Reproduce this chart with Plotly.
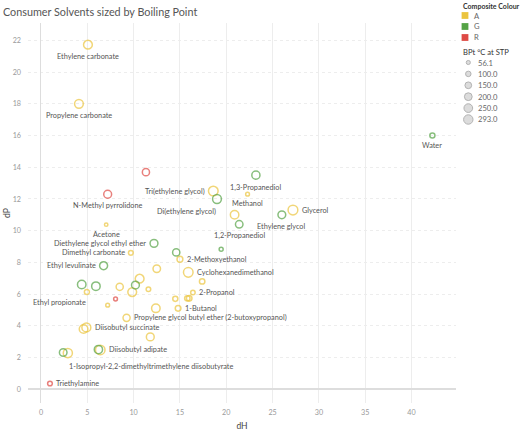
import math
import plotly.graph_objects as go

# ---------------- data ----------------
names = [
    "Ethylene carbonate", "Propylene carbonate", "Water", "", "1,3-Propanediol",
    "N-Methyl pyrrolidone", "Tri(ethylene glycol)", "Methanol", "Di(ethylene glycol)", "",
    "Glycerol", "Ethylene glycol", "1,2-Propanediol", "Acetone", "",
    "Diethylene glycol ethyl ether", "Dimethyl carbonate", "", "2-Methoxyethanol", "Cyclohexanedimethanol",
    "", "2-Propanol", "", "", "",
    "1-Butanol", "", "Propylene glycol butyl ether (2-butoxypropanol)", "", "Diisobutyl succinate",
    "", "", "Diisobutyl adipate", "", "1-Isopropyl-2,2-dimethyltrimethylene diisobutyrate",
    "Triethylamine", "Ethyl levulinate", "", "", "Ethyl propionate",
    "", "", "", "", "",
    "", "", "",
]
dH = [
    5.07, 4.1, 42.25, 11.33, 23.2,
    7.2, 18.6, 22.3, 19.0, 20.9,
    27.2, 26.0, 21.4, 7.04, 19.45,
    12.2, 9.7, 14.6, 15.0, 15.9,
    17.4, 16.4, 14.5, 15.8, 16.0,
    14.8, 12.4, 9.24, 4.6, 4.9,
    11.8, 6.2, 6.4, 2.4, 2.9,
    0.97, 6.76, 4.4, 5.93, 4.96,
    8.05, 7.2, 8.5, 10.2, 10.65,
    9.85, 11.6, 12.5,
]
dP = [
    21.73, 18.0, 16.0, 13.69, 13.5,
    12.3, 12.5, 12.3, 12.0, 11.0,
    11.3, 11.0, 10.4, 10.38, 8.83,
    9.2, 8.6, 8.63, 8.2, 7.37,
    6.8, 6.1, 5.7, 5.73, 5.73,
    5.1, 5.1, 4.5, 3.8, 3.9,
    3.3, 2.5, 2.48, 2.32, 2.28,
    0.36, 7.79, 6.6, 6.5, 6.13,
    5.69, 5.3, 6.46, 6.57, 6.97,
    6.13, 6.3, 7.6,
]
bpt = [
    243, 242, 100, 173, 214,
    202, 285, 64.7, 245, 230,
    290, 197, 188, 56.1, 70,
    202, 90, 175, 124, 283,
    110, 82.6, 100, 110, 115,
    117.7, 230, 170, 237, 250,
    200, 220, 278, 190, 260,
    89, 206, 230, 230, 99,
    65, 65, 173, 200, 243,
    243, 85, 185,
]
colour = [
    "A", "A", "G", "R", "G",
    "R", "A", "A", "G", "A",
    "A", "G", "G", "A", "G",
    "G", "A", "G", "A", "A",
    "A", "A", "A", "A", "A",
    "A", "A", "A", "A", "A",
    "A", "G", "A", "G", "A",
    "R", "G", "G", "G", "A",
    "R", "A", "A", "G", "A",
    "A", "A", "A",
]
label_side = {
    "Ethylene carbonate": "below", "Propylene carbonate": "below", "Water": "below",
    "1,3-Propanediol": "below", "N-Methyl pyrrolidone": "below", "Tri(ethylene glycol)": "left",
    "Methanol": "below", "Di(ethylene glycol)": "belowleft", "Glycerol": "right",
    "Ethylene glycol": "below", "1,2-Propanediol": "below", "Acetone": "below",
    "Diethylene glycol ethyl ether": "left", "Dimethyl carbonate": "left",
    "2-Methoxyethanol": "right", "Cyclohexanedimethanol": "right", "2-Propanol": "right",
    "1-Butanol": "right", "Propylene glycol butyl ether (2-butoxypropanol)": "right",
    "Diisobutyl succinate": "right", "Diisobutyl adipate": "right",
    "1-Isopropyl-2,2-dimethyltrimethylene diisobutyrate": "belowright",
    "Triethylamine": "right", "Ethyl levulinate": "left", "Ethyl propionate": "belowleft",
}
colour_cats = ["A", "G", "R"]
size_legend_vals = [56.1, 100.0, 150.0, 200.0, 250.0, 293.0]
x_ticks = [0, 5, 10, 15, 20, 25, 30, 35, 40]
y_ticks = [0, 2, 4, 6, 8, 10, 12, 14, 16, 18, 20, 22]

# ---------------- style ----------------
PAL = {"A": "#EBC43F", "G": "#55A346", "R": "#DE4A45"}
FONT = "Lato"
LW = 1.5
K = 0.66  # outer diameter per sqrt(BPt)
W, H = 520, 431
ML, MR, MT, MB = 28, 64, 23, 28
PW, PH = W - ML - MR, H - MT - MB
LABEL_SIZE = 7.3


def outer_d(v):
    return K * math.sqrt(v)


def px2paper_x(px):
    return (px - ML) / PW


def px2paper_y(py):
    return (H - MB - py) / PH


fig = go.Figure()

for c in colour_cats:
    idx = [i for i in range(len(dH)) if colour[i] == c]
    fig.add_trace(go.Scatter(
        x=[dH[i] for i in idx], y=[dP[i] for i in idx],
        mode="markers",
        marker=dict(symbol="circle-open", color=PAL[c],
                    size=[outer_d(bpt[i]) - LW for i in idx],
                    line=dict(width=LW, color=PAL[c])),
        text=[names[i] for i in idx],
        customdata=[bpt[i] for i in idx],
        hovertemplate="%{text}<br>dH %{x}<br>dP %{y}<br>BPt %{customdata}<extra></extra>",
        showlegend=False,
    ))

annotations = []
for i, n in enumerate(names):
    if not n:
        continue
    r = outer_d(bpt[i]) / 2
    side = label_side.get(n, "below")
    a = dict(x=dH[i], y=dP[i], text=n, showarrow=False,
             font=dict(family=FONT, size=LABEL_SIZE, color="#555555"), borderpad=0)
    if side == "below":
        a.update(xanchor="center", yanchor="top", yshift=-(r + 1.5))
    elif side == "right":
        a.update(xanchor="left", yanchor="middle", xshift=r + 2)
    elif side == "left":
        a.update(xanchor="right", yanchor="middle", xshift=-(r + 2))
    elif side == "belowleft":
        a.update(xanchor="right", yanchor="top", xshift=0, yshift=-(r + 2))
    elif side == "belowright":
        a.update(xanchor="left", yanchor="top", xshift=0, yshift=-(r + 3))
    annotations.append(a)

# ---------------- legend (drawn manually) ----------------
shapes = []
LEG_X = 461
annotations.append(dict(xref="paper", yref="paper", x=px2paper_x(LEG_X), y=px2paper_y(6),
                        xanchor="left", yanchor="middle", showarrow=False,
                        text="Composite Colour",
                        font=dict(family=FONT, size=7.0, color="#333333", weight="bold")))
for j, c in enumerate(colour_cats):
    cy = 15.5 + j * 11
    shapes.append(dict(type="rect", xref="paper", yref="paper",
                       xsizemode="pixel", ysizemode="pixel",
                       xanchor=px2paper_x(465), yanchor=px2paper_y(cy),
                       x0=-3.4, x1=3.4, y0=-3.4, y1=3.4,
                       fillcolor=PAL[c], line=dict(width=0)))
    annotations.append(dict(xref="paper", yref="paper", x=px2paper_x(472), y=px2paper_y(cy),
                            xanchor="left", yanchor="middle", showarrow=False, text=c,
                            font=dict(family=FONT, size=7.6, color="#666666")))

annotations.append(dict(xref="paper", yref="paper", x=px2paper_x(LEG_X), y=px2paper_y(52.5),
                        xanchor="left", yanchor="middle", showarrow=False,
                        text="BPt °C at STP",
                        font=dict(family=FONT, size=7.6, color="#333333")))
for j, v in enumerate(size_legend_vals):
    cy = 62.5 + j * 11.4
    d = 0.55 * math.sqrt(v)
    shapes.append(dict(type="circle", xref="paper", yref="paper",
                       xsizemode="pixel", ysizemode="pixel",
                       xanchor=px2paper_x(468.3), yanchor=px2paper_y(cy),
                       x0=-d / 2, x1=d / 2, y0=-d / 2, y1=d / 2,
                       fillcolor="#dcdcdc", line=dict(width=1, color="#b3b3b3")))
    annotations.append(dict(xref="paper", yref="paper", x=px2paper_x(475.5), y=px2paper_y(cy),
                            xanchor="left", yanchor="middle", showarrow=False,
                            text=f"{v:.1f}",
                            font=dict(family=FONT, size=7.6, color="#666666")))

fig.update_layout(
    width=W, height=H,
    margin=dict(l=ML, r=MR, t=MT, b=MB, autoexpand=False),
    paper_bgcolor="white", plot_bgcolor="white",
    font=dict(family=FONT),
    title=dict(text="Consumer Solvents sized by Boiling Point",
               xref="container", yref="container", x=3 / W, xanchor="left",
               y=1 - 12 / H, yanchor="middle",
               font=dict(family=FONT, size=10.8, color="#555555")),
    showlegend=False,
    annotations=annotations,
    shapes=shapes,
    xaxis=dict(range=[-1.4, 44.8], tickvals=x_ticks, showgrid=True, gridcolor="#ededed",
               zeroline=True, zerolinecolor="#dddddd", zerolinewidth=1,
               tickfont=dict(family=FONT, size=7.2, color="#9a9a9a"),
               ticks="", ticklabelstandoff=4, showline=False, automargin=False,
               title=dict(text="dH", standoff=6, font=dict(family=FONT, size=8.5, color="#444444"))),
    yaxis=dict(range=[-0.87, 23.1], tickvals=y_ticks, showgrid=True, gridcolor="#ededed",
               griddash="dot",
               zeroline=True, zerolinecolor="#dddddd", zerolinewidth=2,
               tickfont=dict(family=FONT, size=7.2, color="#9a9a9a"),
               ticks="", ticklabelstandoff=6, showline=False, automargin=False,
               title=dict(text="dP", standoff=0, font=dict(family=FONT, size=8.5, color="#444444"))),
    hovermode=False,
    dragmode=False,
)

fig.write_html("out.html",
               config={"displayModeBar": False, "staticPlot": True},
               post_script="document.body.style.margin='0';document.body.style.padding='0';")
